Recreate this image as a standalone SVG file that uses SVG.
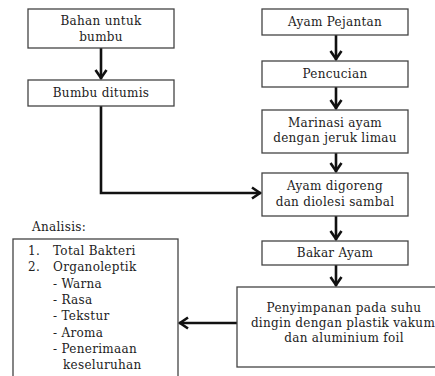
<svg xmlns="http://www.w3.org/2000/svg" width="435" height="376" viewBox="0 0 435 376">
<defs>
<style>
.box{fill:#fff;stroke:#444;stroke-width:1.3}
.t{font-family:'DejaVu Serif','Liberation Serif',serif;font-size:12px;fill:#222;letter-spacing:0.3px}
.c{text-anchor:middle}
.con{fill:none;stroke:#111;stroke-width:2.6}
</style>
<marker id="ah" markerUnits="userSpaceOnUse" markerWidth="14" markerHeight="14" viewBox="-12 -7 14 14" refX="0" refY="0" orient="auto">
<path d="M-9,-5.5 L-1,0 L-9,5.5" fill="none" stroke="#111" stroke-width="2.6"/>
</marker>
</defs>
<rect width="435" height="376" fill="#fff"/>
<g id="connectors">
<line class="con" x1="101" y1="48" x2="101" y2="79" marker-end="url(#ah)"/>
<polyline class="con" points="101,106 101,193 261,193" marker-end="url(#ah)"/>
<line class="con" x1="336" y1="35" x2="336" y2="60" marker-end="url(#ah)"/>
<line class="con" x1="336" y1="87" x2="336" y2="109" marker-end="url(#ah)"/>
<line class="con" x1="336" y1="153" x2="336" y2="172" marker-end="url(#ah)"/>
<line class="con" x1="336" y1="216" x2="336" y2="240" marker-end="url(#ah)"/>
<line class="con" x1="336" y1="265" x2="336" y2="286" marker-end="url(#ah)"/>
<line class="con" x1="237" y1="323" x2="179" y2="323" marker-end="url(#ah)"/>
</g>
<g id="bahan">
<rect class="box" x="28" y="9" width="146" height="39"/>
<text class="t c" x="101" y="25">Bahan untuk</text>
<text class="t c" x="101" y="41">bumbu</text>
</g>
<g id="bumbu">
<rect class="box" x="28" y="80" width="146" height="26"/>
<text class="t c" x="101" y="97">Bumbu ditumis</text>
</g>
<g id="ayam-pejantan">
<rect class="box" x="262" y="9" width="146" height="26"/>
<text class="t c" x="335" y="26">Ayam Pejantan</text>
</g>
<g id="pencucian">
<rect class="box" x="262" y="61" width="146" height="26"/>
<text class="t c" x="335" y="78">Pencucian</text>
</g>
<g id="marinasi">
<rect class="box" x="262" y="110" width="146" height="43"/>
<text class="t c" x="335" y="127">Marinasi ayam</text>
<text class="t c" x="335" y="142">dengan jeruk limau</text>
</g>
<g id="digoreng">
<rect class="box" x="262" y="173" width="146" height="43"/>
<text class="t c" x="335" y="190">Ayam digoreng</text>
<text class="t c" x="335" y="206">dan diolesi sambal</text>
</g>
<g id="bakar">
<rect class="box" x="262" y="241" width="146" height="24"/>
<text class="t c" x="335" y="257">Bakar Ayam</text>
</g>
<g id="penyimpanan">
<rect class="box" x="237" y="287" width="210" height="80"/>
<text class="t c" x="344" y="312">Penyimpanan pada suhu</text>
<text class="t c" x="343" y="327">dingin dengan plastik vakum</text>
<text class="t c" x="344" y="342">dan aluminium foil</text>
</g>
<g id="analisis">
<text class="t" x="32" y="231">Analisis:</text>
<rect class="box" x="13" y="239" width="165" height="145"/>
<text class="t" x="28" y="255">1.</text>
<text class="t" x="53" y="255">Total Bakteri</text>
<text class="t" x="28" y="271">2.</text>
<text class="t" x="53" y="271">Organoleptik</text>
<text class="t" x="53" y="288">- Warna</text>
<text class="t" x="53" y="304">- Rasa</text>
<text class="t" x="53" y="320">- Tekstur</text>
<text class="t" x="53" y="337">- Aroma</text>
<text class="t" x="53" y="353">- Penerimaan</text>
<text class="t" x="63" y="369">keseluruhan</text>
</g>
</svg>
